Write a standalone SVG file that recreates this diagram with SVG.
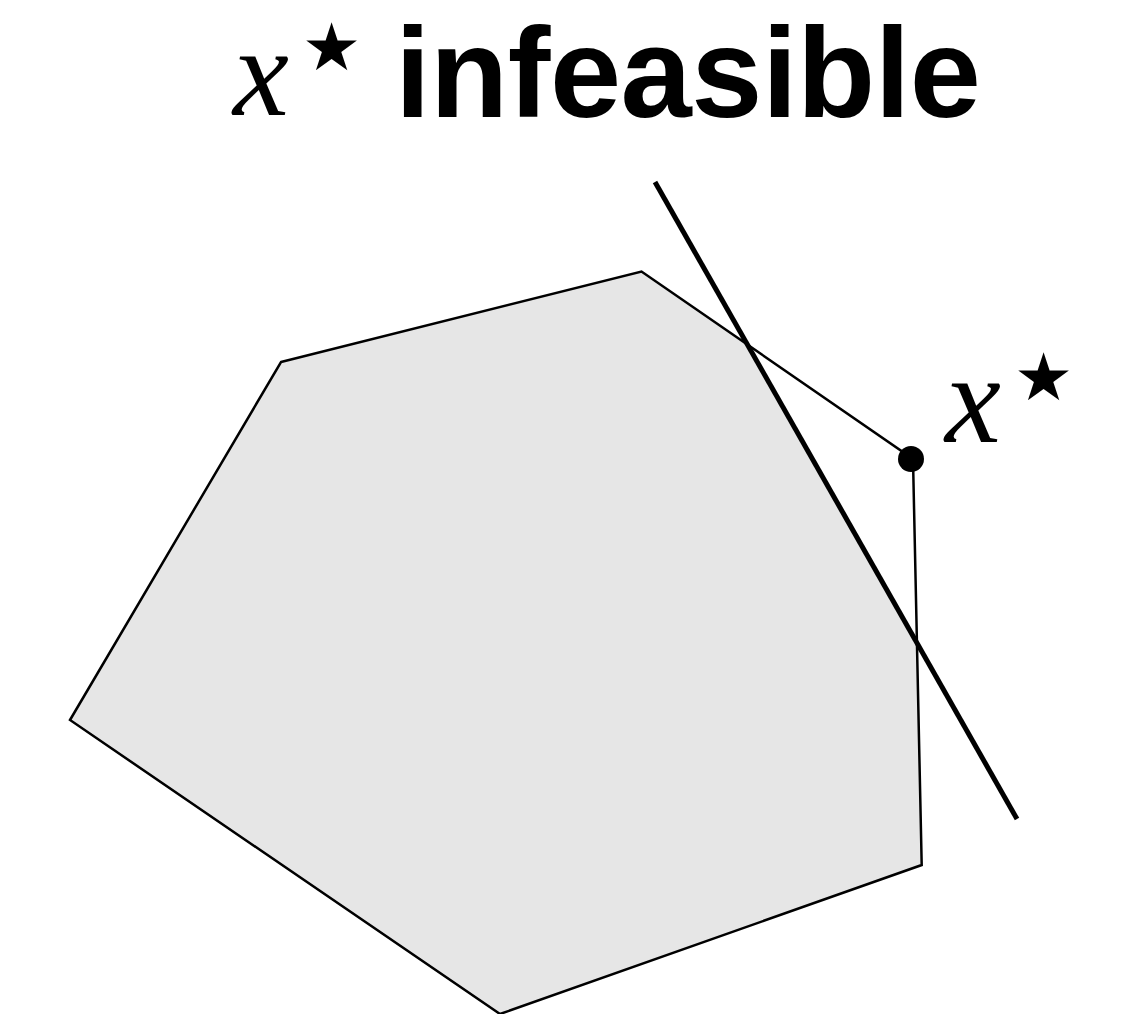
<svg xmlns="http://www.w3.org/2000/svg" width="1128" height="1014" viewBox="0 0 1128 1014">
  <style>
    .edge { fill: none; stroke: #000; stroke-width: 2.5; stroke-linejoin: miter; }
    .cut { fill: none; stroke: #000; stroke-width: 5; }
    .mathx { font-family: "Liberation Serif", "DejaVu Serif", serif; font-style: italic; font-size: 126px; fill: #000; }
    .star { font-family: "DejaVu Sans", sans-serif; font-style: normal; font-size: 66px; fill: #000; }
    .title { font-family: "Liberation Sans", Arial, sans-serif; font-weight: bold; font-size: 128px; fill: #000; }
  </style>
  <rect width="1128" height="1014" fill="#ffffff"/>
  <g id="title">
    <text class="mathx" x="233" y="115">x<tspan class="star" x="302" y="70">★</tspan></text>
    <text class="title" x="395" y="117" textLength="586" lengthAdjust="spacing">infeasible</text>
  </g>
  <g id="feasible-region">
    <polygon points="281,362 641.5,271.5 747.5,344.7 916.9,642.9 921.7,865 500,1014 70,720" fill="#e6e6e6" stroke="none"/>
    <polygon class="edge" points="281,362 641.5,271.5 913,459 921.7,865 500,1014 70,720"/>
  </g>
  <g id="connectors">
    <line class="cut" x1="655" y1="182" x2="1017" y2="819"/>
  </g>
  <g id="x-star">
    <circle cx="911" cy="459" r="13" fill="#000"/>
    <text class="mathx" x="945" y="442">x<tspan class="star" x="1014" y="400">★</tspan></text>
  </g>
</svg>
